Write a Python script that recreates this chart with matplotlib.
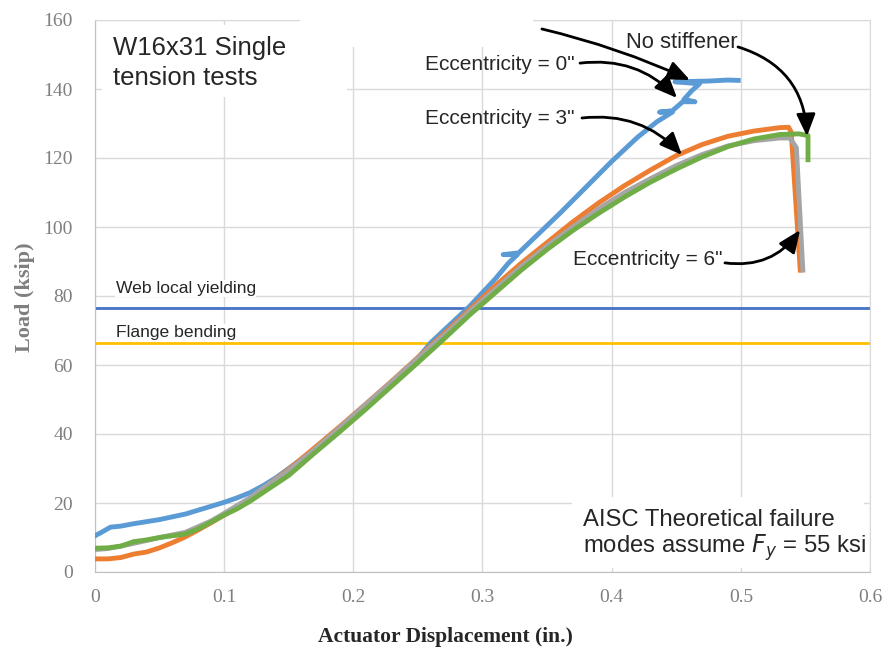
import matplotlib
matplotlib.use("Agg")
import matplotlib.pyplot as plt
from matplotlib.patches import Rectangle

# ---- data ----
blue_x = [0.0, 0.005, 0.012, 0.02, 0.03, 0.05, 0.07, 0.085, 0.1, 0.11, 0.12, 0.13, 0.14, 0.15,
          0.17, 0.19, 0.21, 0.23, 0.25, 0.26, 0.27, 0.28, 0.29, 0.30, 0.31, 0.32, 0.327, 0.316,
          0.328, 0.34, 0.36, 0.38, 0.40, 0.42, 0.435, 0.447, 0.437, 0.447, 0.455, 0.4645,
          0.456, 0.462, 0.468, 0.449, 0.475, 0.49, 0.498]
blue_y = [10.5, 11.5, 13.0, 13.3, 14.0, 15.2, 16.8, 18.5, 20.2, 21.5, 23.0, 25.0, 27.3, 30.0,
          35.5, 41.5, 48.0, 55.0, 62.0, 66.5, 70.0, 73.5, 77.0, 81.0, 85.0, 89.5, 92.0, 92.0,
          92.5, 96.8, 104.0, 111.5, 119.0, 126.0, 130.5, 133.3, 133.3, 133.7, 136.3, 136.3,
          137.0, 139.5, 141.5, 142.1, 142.3, 142.6, 142.5]

orange_x = [0.0, 0.01, 0.02, 0.03, 0.04, 0.05, 0.06, 0.07, 0.08, 0.09, 0.1, 0.11, 0.12, 0.13,
            0.14, 0.15, 0.17, 0.19, 0.21, 0.23, 0.25, 0.27, 0.29, 0.31, 0.33, 0.35, 0.37, 0.39,
            0.41, 0.43, 0.45, 0.47, 0.49, 0.51, 0.53, 0.537, 0.539, 0.546]
orange_y = [3.8, 3.8, 4.2, 5.2, 5.8, 7.0, 8.5, 10.2, 12.2, 14.3, 16.5, 18.8, 21.2, 24.0,
            27.0, 29.8, 36.0, 42.3, 48.8, 55.4, 62.2, 69.0, 76.0, 83.0, 89.5, 95.5, 101.5, 107.0,
            112.0, 116.5, 120.7, 123.9, 126.3, 127.8, 128.8, 128.9, 127.5, 87.5]

gray_x = [0.0, 0.01, 0.02, 0.03, 0.05, 0.07, 0.09, 0.1, 0.12, 0.13, 0.15, 0.17, 0.19, 0.21,
          0.23, 0.25, 0.27, 0.29, 0.31, 0.33, 0.35, 0.37, 0.39, 0.41, 0.43, 0.45, 0.47, 0.49,
          0.51, 0.53, 0.538, 0.543, 0.548]
gray_y = [6.5, 6.8, 7.5, 8.3, 10.0, 11.5, 14.8, 17.0, 21.5, 24.3, 29.5, 35.5, 42.0, 48.7,
          55.2, 62.0, 68.5, 75.5, 82.0, 88.5, 94.5, 100.0, 105.3, 110.0, 114.0, 117.8, 121.0, 123.5,
          125.0, 125.8, 125.8, 123.0, 87.5]

green_x = [0.0, 0.01, 0.02, 0.03, 0.04, 0.05, 0.06, 0.07, 0.08, 0.09, 0.1, 0.11, 0.12, 0.13,
           0.14, 0.15, 0.17, 0.19, 0.21, 0.23, 0.25, 0.27, 0.29, 0.31, 0.33, 0.35, 0.37, 0.39,
           0.41, 0.43, 0.45, 0.47, 0.49, 0.51, 0.53, 0.545, 0.552, 0.552]
green_y = [6.9, 7.0, 7.5, 8.8, 9.3, 10.0, 10.5, 11.0, 12.5, 14.5, 16.5, 18.3, 20.5, 23.0,
           25.5, 28.0, 34.5, 40.8, 47.3, 54.0, 60.7, 67.5, 74.5, 81.0, 87.5, 93.5, 99.0, 104.0,
           108.7, 113.0, 116.8, 120.3, 123.3, 125.5, 126.8, 127.0, 126.5, 119.5]

web_local_yielding = 76.5
flange_bending = 66.4

x_ticks = [0, 0.1, 0.2, 0.3, 0.4, 0.5, 0.6]
x_tick_labels = ["0", "0.1", "0.2", "0.3", "0.4", "0.5", "0.6"]
y_ticks = [0, 20, 40, 60, 80, 100, 120, 140, 160]

# ---- figure ----
fig = plt.figure(figsize=(8.87, 6.48), dpi=100)
ax = fig.add_axes([95 / 887, 76 / 648, 775 / 887, 552 / 648])

ax.set_xlim(0, 0.6)
ax.set_ylim(0, 160)
ax.set_xticks(x_ticks)
ax.set_xticklabels(x_tick_labels)
ax.set_yticks(y_ticks)
ax.grid(True, color="#D9D9D9", linewidth=1.0, zorder=0)
ax.set_axisbelow(True)
for s in ["top", "right"]:
    ax.spines[s].set_color("#D9D9D9")
for s in ["left", "bottom"]:
    ax.spines[s].set_color("#BFBFBF")
ax.tick_params(length=0, labelsize=14, labelcolor="#7F7F7F")
ax.tick_params(axis="x", pad=12)
ax.tick_params(axis="y", pad=16)
for lab in ax.get_xticklabels() + ax.get_yticklabels():
    lab.set_fontfamily("Liberation Serif")

# white (empty) boxes hiding gridlines, as in the source
for (x0, y0, w, h) in [(0.0054, 137.7, 0.19, 20.9), (0.1587, 152.2, 0.1804, 8.5),
                       (0.369, 1.16, 0.226, 20.6)]:
    ax.add_patch(Rectangle((x0, y0), w, h, facecolor="white", edgecolor="none",
                           zorder=2.7, clip_on=False))

ax.axhline(web_local_yielding, color="#4472C4", linewidth=2, zorder=2)
ax.axhline(flange_bending, color="#FFC000", linewidth=2, zorder=2)

lw = 3.5
ax.plot(blue_x, blue_y, color="#5B9BD5", linewidth=lw, zorder=3)
ax.plot(orange_x, orange_y, color="#ED7D31", linewidth=lw, zorder=3)
ax.plot(gray_x, gray_y, color="#A5A5A5", linewidth=lw, zorder=4)
ax.plot(green_x, green_y, color="#70AD47", linewidth=lw, zorder=4)

ax.set_xlabel("Actuator Displacement (in.)", family="Liberation Serif", fontweight="bold",
              fontsize=15.5, color="#262626")
ax.xaxis.set_label_coords(0.4516, -0.099)
ax.set_ylabel("Load (ksip)", family="Liberation Serif", fontweight="bold",
              fontsize=16, color="#7F7F7F")
ax.yaxis.set_label_coords(-0.0774, 0.497)

sans = "Liberation Sans"
tcol = "#262626"
ax.text(0.016, 80.9, "Web local yielding", family=sans, fontsize=12.6,
        color=tcol, va="baseline", zorder=5,
        bbox=dict(facecolor="white", edgecolor="none", pad=0.5))
ax.text(0.016, 68.1, "Flange bending", family=sans, fontsize=12.6,
        color=tcol, va="baseline", zorder=5,
        bbox=dict(facecolor="white", edgecolor="none", pad=0.5))

ax.text(0.0139, 149.9, "W16x31 Single", family=sans, fontsize=18.5,
        color=tcol, va="baseline", ha="left", zorder=6)
ax.text(0.0139, 141.2, "tension tests", family=sans, fontsize=18.5,
        color=tcol, va="baseline", ha="left", zorder=6)

ax.text(0.3775, 13.3, "AISC Theoretical failure", family=sans, fontsize=17.2,
        color=tcol, va="baseline", ha="left", zorder=6)
ax.text(0.3775, 5.5, "modes assume $\\mathit{F_y}$ = 55 ksi", family=sans, fontsize=17.2,
        color=tcol, va="baseline", ha="left", zorder=6)

ann_kw = dict(family=sans, color=tcol, zorder=7, va="baseline", ha="left")
ax.text(0.411, 151.8, "No stiffener", fontsize=15.8, **ann_kw)
ax.text(0.2555, 145.5, "Eccentricity = 0\"", fontsize=15, **ann_kw)
ax.text(0.2555, 130.0, "Eccentricity = 3\"", fontsize=15, **ann_kw)
ax.text(0.370, 89.0, "Eccentricity = 6\"", fontsize=15, **ann_kw)

arrow_specs = [
    ((0.346, 157.4), (0.4606, 142.6), -0.05),
    ((0.4978, 152.2), (0.5512, 126.3), -0.35),
    ((0.3755, 147.5), (0.4506, 137.4), -0.25),
    ((0.377, 131.6), (0.4544, 120.9), -0.25),
    ((0.4877, 89.6), (0.5458, 99.1), 0.3),
]
for start, end, rad in arrow_specs:
    ax.annotate("", xy=end, xytext=start,
                arrowprops=dict(arrowstyle="-|>,head_length=0.75,head_width=0.32",
                                mutation_scale=18, color="black", lw=2.0,
                                shrinkA=0, shrinkB=0,
                                connectionstyle=f"arc3,rad={rad}"),
                zorder=8)

fig.savefig("out.png", dpi=100)
